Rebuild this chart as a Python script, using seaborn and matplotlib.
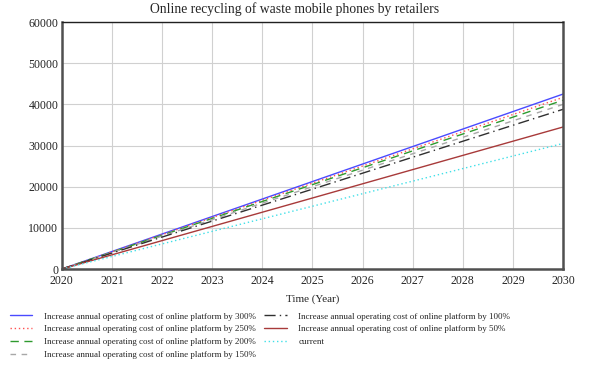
import matplotlib
matplotlib.use("Agg")
import matplotlib.pyplot as plt
import seaborn as sns
import pandas as pd

years = [2020, 2021, 2022, 2023, 2024, 2025, 2026, 2027, 2028, 2029, 2030]

labels = [
    "Increase annual operating cost of online platform by 300%",
    "Increase annual operating cost of online platform by 250%",
    "Increase annual operating cost of online platform by 200%",
    "Increase annual operating cost of online platform by 150%",
    "Increase annual operating cost of online platform by 100%",
    "Increase annual operating cost of online platform by 50%",
    "current",
]

inc300 = [0, 4250, 8500, 12750, 17000, 21250, 25500, 29750, 34000, 38250, 42500]
inc250 = [0, 4170, 8340, 12510, 16680, 20850, 25020, 29190, 33360, 37530, 41700]
inc200 = [0, 4100, 8200, 12300, 16400, 20500, 24600, 28700, 32800, 36900, 41000]
inc150 = [0, 4000, 8000, 12000, 16000, 20000, 24000, 28000, 32000, 36000, 40000]
inc100 = [0, 3880, 7760, 11640, 15520, 19400, 23280, 27160, 31040, 34920, 38800]
inc50 = [0, 3450, 6900, 10350, 13800, 17250, 20700, 24150, 27600, 31050, 34500]
current = [0, 3050, 6100, 9150, 12200, 15250, 18300, 21350, 24400, 27450, 30500]

series = [inc300, inc250, inc200, inc150, inc100, inc50, current]
colors = ["#4a4aff", "#ff5050", "#2e9a2e", "#a8a8a8", "#303030", "#a83a3a", "#40e0e8"]
styles = ["-", (0, (1, 2)), (0, (6, 4)), (0, (4, 4)), (0, (8, 3, 1, 3)), "-", (0, (1, 2))]

sns.set_style("whitegrid", {"grid.color": "#d0d0d0"})
plt.rcParams["font.family"] = ["Liberation Serif", "DejaVu Serif"]

fig = plt.figure(figsize=(5.89, 3.67), dpi=100)
ax = fig.add_axes([0.105, 0.267, 0.851, 0.673])

for lab, vals, c, ls in zip(labels, series, colors, styles):
    df = pd.DataFrame({"year": years, "value": vals})
    sns.lineplot(data=df, x="year", y="value", ax=ax, color=c, linestyle=ls,
                 linewidth=1.0, label=lab)

ax.set_xlim(2020, 2030)
ax.set_ylim(0, 60000)
ax.set_xticks(years)
ax.set_yticks(range(0, 60001, 10000))
ax.tick_params(axis="y", labelsize=8.6, pad=2.5, length=0)
ax.tick_params(axis="x", labelsize=8.6, pad=4.5, length=0)
ax.set_xlabel("Time (Year)", fontsize=8, labelpad=5)
ax.set_ylabel("")
fig.suptitle("Online recycling of waste mobile phones by retailers", fontsize=9.8,
             x=0.5, y=0.995, va="top")

for side in ["left", "bottom", "right"]:
    ax.spines[side].set_color("#505050")
    ax.spines[side].set_linewidth(1.8)
ax.spines["top"].set_color("#202020")
ax.spines["top"].set_linewidth(1.0)

ax.legend(loc="upper left", bbox_to_anchor=(-0.104, -0.175), ncol=2, frameon=False,
          fontsize=6.5, handlelength=2.5, handletextpad=1.3, columnspacing=0.9,
          labelspacing=0.5, borderaxespad=0, borderpad=0)

fig.savefig("out.png", dpi=100)
